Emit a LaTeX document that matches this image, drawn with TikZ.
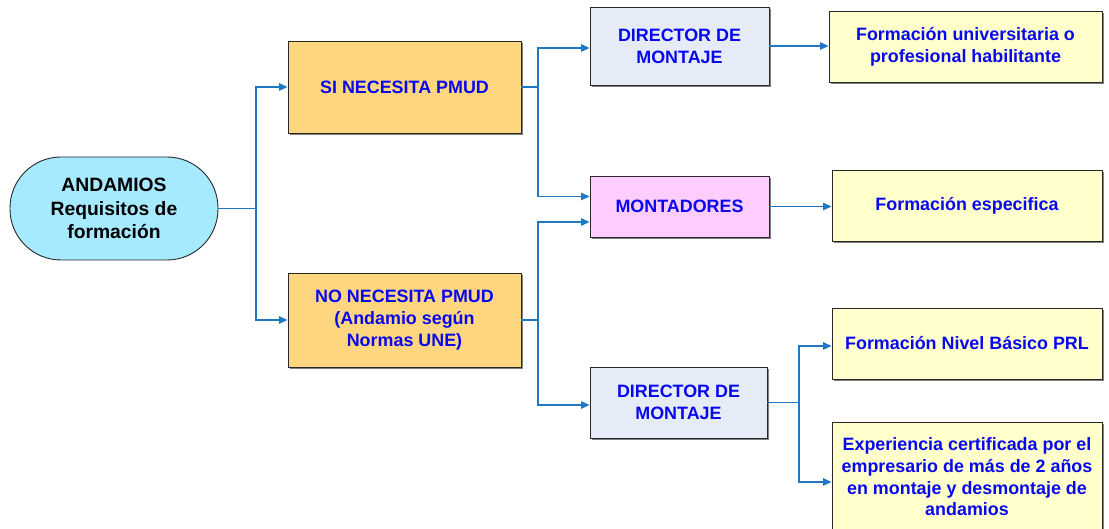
\documentclass[tikz,border=0pt]{standalone}
\usepackage{fontspec}
\setmainfont{Liberation Sans}
\usetikzlibrary{arrows.meta,shadows}
\definecolor{txtblue}{RGB}{8,8,240}
\definecolor{linkblue}{RGB}{30,120,195}
\definecolor{rootfill}{RGB}{166,234,255}
\definecolor{orangefill}{RGB}{253,214,127}
\definecolor{dirfill}{RGB}{230,236,247}
\definecolor{montfill}{RGB}{255,204,255}
\definecolor{yelfill}{RGB}{255,255,204}
\definecolor{edge}{RGB}{40,40,40}
\tikzset{
  box/.style={draw=edge, line width=0.9pt, inner sep=0pt, align=center,
    text=txtblue, font=\bfseries\fontsize{17.9}{21.7}\selectfont,
    drop shadow={shadow xshift=1.6pt, shadow yshift=-1.6pt, fill=black!50, opacity=1}},
  conn/.style={draw=linkblue, line width=1.2pt},
  arr/.style={conn, -{Triangle[length=8.5pt,width=7.5pt]}, color=linkblue},
}
\begin{document}
\begin{tikzpicture}[x=1pt,y=-1pt]
\useasboundingbox[fill=white] (0,0) rectangle (1109,529);

\node[draw=edge, line width=0.9pt, fill=rootfill, rounded corners=51pt, inner sep=0pt,
  minimum width=208pt, minimum height=103pt, align=center,
  font=\bfseries\fontsize{19.3}{23.5}\selectfont] (root) at (114,208.5)
  {ANDAMIOS\\Requisitos de\\formación};

\node[box, fill=orangefill, minimum width=233pt, minimum height=92pt] (si) at (404.5,87) {SI NECESITA PMUD};
\node[box, fill=orangefill, minimum width=233pt, minimum height=94pt] (no) at (404.5,320) {NO NECESITA PMUD\\(Andamio según\\Normas UNE)};

\node[box, fill=dirfill, minimum width=179pt, minimum height=78pt] (dir1) at (679.5,46) {DIRECTOR DE\\MONTAJE};
\node[box, fill=montfill, minimum width=179pt, minimum height=61pt] (mont) at (679.5,206.5) {MONTADORES};
\node[box, fill=dirfill, minimum width=177pt, minimum height=71pt] (dir2) at (678.5,402.5) {DIRECTOR DE\\MONTAJE};

\node[box, fill=yelfill, minimum width=273pt, minimum height=71pt] (f1) at (965.5,46.5) {Formación universitaria o\\profesional habilitante};
\node[box, fill=yelfill, minimum width=270pt, minimum height=71pt] (f2) at (967,205.5) {Formación especifica};
\node[box, fill=yelfill, minimum width=270pt, minimum height=71pt] (f3) at (967,343.5) {Formación Nivel Básico PRL};
\node[box, fill=yelfill, minimum width=270pt, minimum height=110pt] (f4) at (967,477) {Experiencia certificada por el\\empresario de más de 2 años\\en montaje y desmontaje de\\andamios};

\coordinate (j0) at (256,208.5);
\draw[conn] (root.east) -- (j0);
\draw[arr] (j0) |- (si.west);
\draw[arr] (j0) |- (no.west);

\coordinate (j1) at (538,87);
\draw[conn] (si.east) -- (j1);
\draw[arr] (j1) |- ([yshift=-2pt]dir1.west);
\draw[arr] (j1) |- ([yshift=10pt]mont.west);

\coordinate (j2) at (538,320);
\draw[conn] (no.east) -- (j2);
\draw[arr] (j2) |- ([yshift=-15.5pt]mont.west);
\draw[arr] (j2) |- ([yshift=-2.5pt]dir2.west);

\draw[arr] (dir1.east) -- (dir1.east -| f1.west);
\draw[arr] (mont.east) -- (mont.east -| f2.west);

\coordinate (j3) at (799,402.5);
\draw[conn] (dir2.east) -- (j3);
\draw[arr] (j3) |- ([yshift=-2.5pt]f3.west);
\draw[arr] (j3) |- ([yshift=-5pt]f4.west);
\end{tikzpicture}
\end{document}
